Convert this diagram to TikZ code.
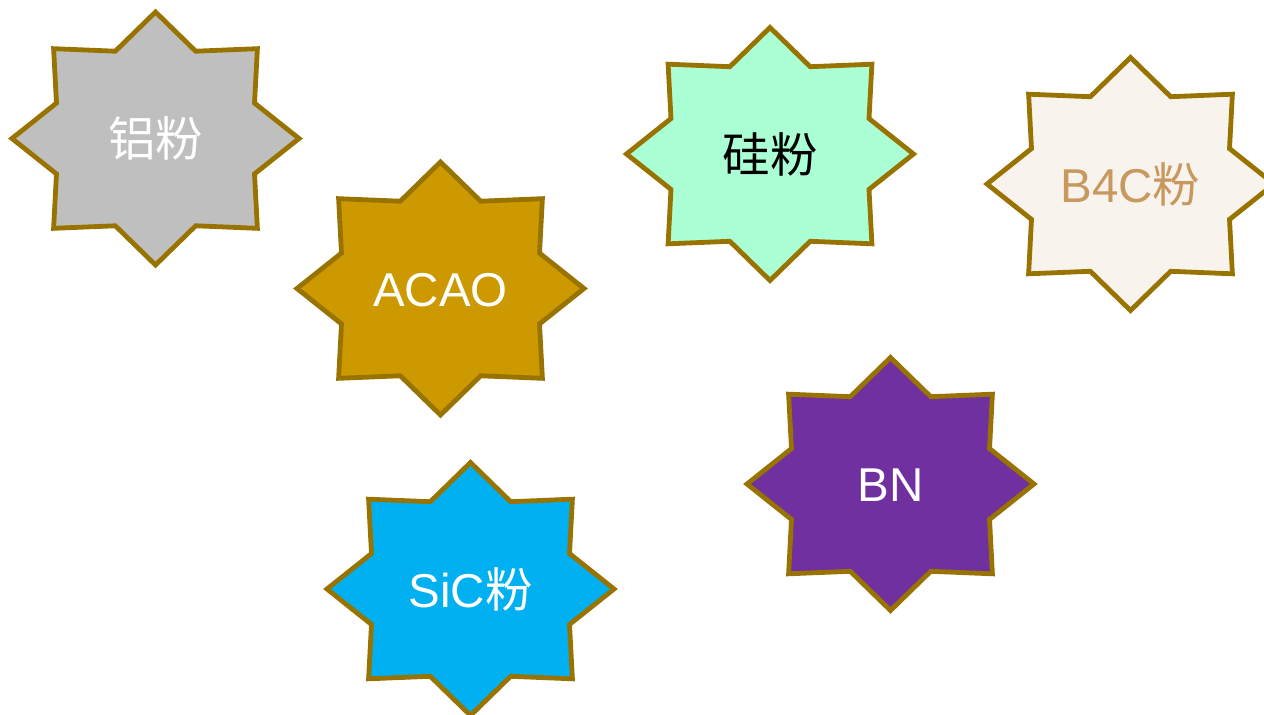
\documentclass[tikz,border=0pt]{standalone}
\usepackage{fontspec}
\setmainfont{Liberation Sans}
\newfontfamily\cjk{Noto Sans CJK SC}
\definecolor{starborder}{HTML}{997300}
\definecolor{cgray}{HTML}{BFBFBF}
\definecolor{cgold}{HTML}{CC9900}
\definecolor{cmint}{HTML}{AAFFD4}
\definecolor{ccream}{HTML}{F8F3EC}
\definecolor{ctan}{HTML}{C8995E}
\definecolor{cpurple}{HTML}{7030A0}
\definecolor{cblue}{HTML}{00B0F0}
\newcommand{\starpath}{(0,-1) -- (0.28,-0.69) -- (0.71,-0.71) -- (0.69,-0.28) -- (1,0) -- (0.69,0.28) -- (0.71,0.71) -- (0.28,0.69) -- (0,1) -- (-0.28,0.69) -- (-0.71,0.71) -- (-0.69,0.28) -- (-1,0) -- (-0.69,-0.28) -- (-0.71,-0.71) -- (-0.28,-0.69) -- cycle}
\tikzset{
  starbox/.style={draw=starborder, line width=4.8pt, line join=miter},
  lbl/.style={font=\fontsize{47.5}{52}\selectfont, inner sep=0pt}
}
\newcommand{\drawstar}[3]{%
  \begin{scope}[shift={(#1,#2)}, xscale=143.5, yscale=126.5]
    \draw[starbox, fill=#3] \starpath;
  \end{scope}}
\begin{document}
\begin{tikzpicture}[x=1pt,y=-1pt]
\useasboundingbox (0,0) rectangle (1264,715);
\fill[white] (0,0) rectangle (1264,715);
\drawstar{155.5}{138.5}{cgray}
\node[lbl, text=white] (lv) at (155.5,138.5) {\cjk 铝粉};
\drawstar{440.5}{288.5}{cgold}
\node[lbl, text=white] (acao) at (440.5,290) {ACAO};
\drawstar{770}{154}{cmint}
\node[lbl, text=black] (gui) at (770,154) {\cjk 硅粉};
\drawstar{1130.5}{184}{ccream}
\node[lbl, text=ctan] (b4c) at (1130.5,184) {B4C{\cjk 粉}};
\drawstar{890.5}{484}{cpurple}
\node[lbl, text=white] (bn) at (890.5,485) {BN};
\drawstar{470.5}{589}{cblue}
\node[lbl, text=white] (sic) at (470.5,589) {SiC{\cjk 粉}};
\end{tikzpicture}
\end{document}
